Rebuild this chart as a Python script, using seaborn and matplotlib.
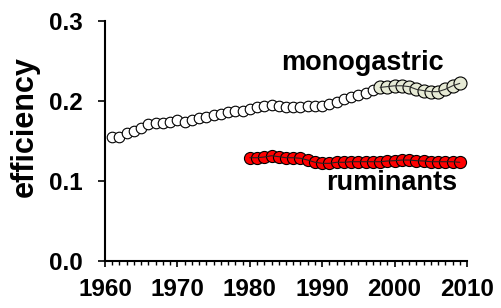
import numpy as np
import pandas as pd
import matplotlib.pyplot as plt
import matplotlib.ticker as plticker
import seaborn as sns

# monogastric, early years (white markers)
mono_years = list(range(1961, 1998))
mono_vals = [0.155, 0.155, 0.160, 0.163, 0.166, 0.171, 0.173, 0.173, 0.174, 0.176,
             0.174, 0.176, 0.179, 0.180, 0.1825, 0.184, 0.186, 0.187, 0.188, 0.190,
             0.193, 0.194, 0.195, 0.194, 0.193, 0.193, 0.193, 0.194, 0.194, 0.194,
             0.196, 0.199, 0.202, 0.205, 0.208, 0.210, 0.214]

# monogastric, recent years (pale markers)
mono2_years = list(range(1998, 2010))
mono2_vals = [0.217, 0.218, 0.219, 0.219, 0.218, 0.2146, 0.213, 0.2117, 0.2117, 0.2146,
              0.219, 0.222]

# ruminants
rum_years = list(range(1980, 2010))
rum_vals = [0.1291, 0.1291, 0.130, 0.1316, 0.1304, 0.1291, 0.1291, 0.1284, 0.1262, 0.1234,
            0.1221, 0.1221, 0.1234, 0.1234, 0.1241, 0.1241, 0.1241, 0.1241, 0.1241, 0.125,
            0.1254, 0.1262, 0.1262, 0.1254, 0.125, 0.1241, 0.1241, 0.1241, 0.1241, 0.1234]

df_mono = pd.DataFrame({"year": mono_years, "efficiency": mono_vals})
df_mono2 = pd.DataFrame({"year": mono2_years, "efficiency": mono2_vals})
df_rum = pd.DataFrame({"year": rum_years, "efficiency": rum_vals})

sns.set_style("ticks")
plt.rcParams['font.family'] = ['Liberation Sans', 'DejaVu Sans']
plt.rcParams['font.weight'] = 'bold'
plt.rcParams['text.color'] = 'black'
plt.rcParams['axes.labelcolor'] = 'black'
plt.rcParams['xtick.color'] = 'black'
plt.rcParams['ytick.color'] = 'black'

fig = plt.figure(figsize=(5.02, 3.08), dpi=100)
ax = fig.add_axes([105 / 502, 1 - 261 / 308, 362 / 502, 240 / 308])

sns.scatterplot(data=df_mono, x="year", y="efficiency", ax=ax, s=58,
                color="white", edgecolor="black", linewidth=0.8, zorder=3, clip_on=False)
sns.scatterplot(data=df_mono2, x="year", y="efficiency", ax=ax, s=88,
                color="#E6EAD5", edgecolor="black", linewidth=0.8, zorder=4, clip_on=False)
sns.lineplot(data=df_mono2, x="year", y="efficiency", ax=ax, color="#333333",
             linewidth=0.8, zorder=5)
sns.scatterplot(data=df_rum, x="year", y="efficiency", ax=ax, s=76,
                color="#FF0000", edgecolor="black", linewidth=0.8, zorder=3, clip_on=False)
sns.lineplot(data=df_rum, x="year", y="efficiency", ax=ax, color="#222222",
             linewidth=0.8, zorder=5)

ax.text(1995.5, 0.2475, "monogastric", ha="center", va="center", fontsize=19.5, fontweight="bold")
ax.text(1999.6, 0.0975, "ruminants", ha="center", va="center", fontsize=19.5, fontweight="bold")

ax.set_xlim(1960, 2010)
ax.set_ylim(0, 0.3)
ax.xaxis.set_major_locator(plticker.MultipleLocator(10))
ax.xaxis.set_minor_locator(plticker.MultipleLocator(1))
ax.yaxis.set_major_locator(plticker.FixedLocator([0.0, 0.1, 0.2, 0.3]))
ax.yaxis.set_major_formatter(plticker.FormatStrFormatter('%.1f'))
ax.tick_params(axis='both', which='major', labelsize=17.5, width=1.2, length=5, color='black')
ax.tick_params(axis='x', which='minor', width=1.0, length=3, color='black')
ax.tick_params(axis='x', which='major', length=4.5, pad=8)
ax.tick_params(axis='y', which='major', pad=11)
for lab in ax.get_xticklabels() + ax.get_yticklabels():
    lab.set_fontweight('bold')

sns.despine(ax=ax)
for sp in ['left', 'bottom']:
    ax.spines[sp].set_linewidth(1.5)
    ax.spines[sp].set_color('black')

ax.set_xlabel("")
ax.set_ylabel("efficiency", fontsize=22, fontweight="bold")
ax.yaxis.set_label_coords(-0.18, 0.56)

fig.savefig("out.png", dpi=100)
